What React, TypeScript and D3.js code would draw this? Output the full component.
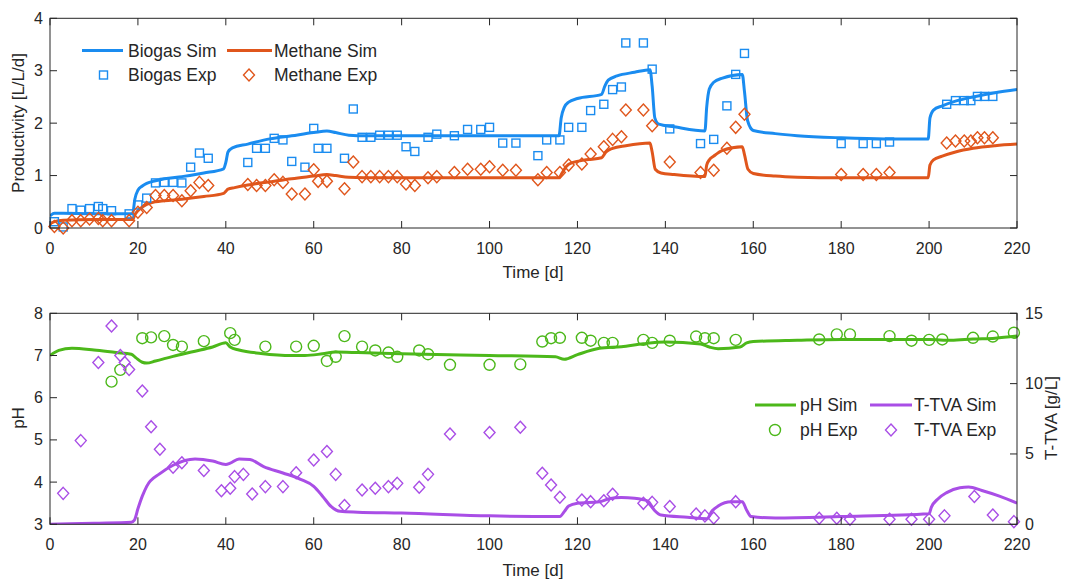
import * as d3 from "d3";

// [day, value] pairs
const biogasSim = [
  [0, 0.23], [1, 0.28], [3, 0.28], [10, 0.27], [18.8, 0.27], [19.3, 0.55], [20, 0.72], [21, 0.8],
  [22, 0.85], [24, 0.9], [26, 0.94], [30, 0.98], [35, 1.05], [39.5, 1.13], [40, 1.25], [40.5, 1.45],
  [41.5, 1.53], [45, 1.6], [50, 1.7], [55, 1.76], [60, 1.82], [63, 1.85], [65, 1.82], [68, 1.77],
  [72, 1.76], [100, 1.76], [115.8, 1.76], [116.3, 2.1], [117, 2.3], [118, 2.4], [120, 2.47],
  [125.5, 2.55], [126.2, 2.7], [127, 2.82], [129, 2.9], [133, 2.97], [136.5, 3.02], [137, 2.7],
  [137.6, 2.1], [138.5, 1.98], [142, 1.93], [149, 1.85], [149.4, 2.3], [150, 2.65], [151, 2.78],
  [153, 2.86], [157.5, 2.93], [158, 2.6], [158.7, 2.05], [160, 1.86], [165, 1.8], [170, 1.76],
  [180, 1.72], [190, 1.7], [199.8, 1.7], [200.2, 2.1], [201, 2.25], [203, 2.33], [206, 2.42],
  [210, 2.5], [215, 2.58], [220, 2.64],
];
const methaneSim = [
  [0, 0.08], [1, 0.12], [3, 0.15], [10, 0.16], [18.8, 0.16], [19.3, 0.25], [20, 0.33], [21, 0.4],
  [22, 0.45], [24, 0.5], [26, 0.52], [30, 0.55], [35, 0.6], [39.5, 0.66], [40, 0.7], [40.5, 0.74],
  [42, 0.77], [45, 0.82], [50, 0.88], [55, 0.94], [60, 0.99], [63, 1.02], [65, 1.0], [68, 0.97],
  [75, 0.96], [100, 0.96], [115.8, 0.96], [116.5, 1.05], [117.5, 1.18], [119, 1.25], [122, 1.3],
  [125.5, 1.34], [126.5, 1.45], [128, 1.52], [131, 1.57], [136.5, 1.62], [137, 1.45], [137.7, 1.12],
  [139, 1.05], [142, 1.02], [149, 0.98], [149.4, 1.2], [150, 1.3], [151, 1.37], [153, 1.48],
  [157.5, 1.55], [158, 1.4], [158.8, 1.12], [160, 1.04], [165, 0.99], [170, 0.97], [180, 0.96],
  [199.8, 0.96], [200.2, 1.2], [201, 1.3], [203, 1.37], [206, 1.45], [210, 1.52], [215, 1.57],
  [220, 1.6],
];
const biogasExp = [
  [1, 0.12], [3, 0.02], [5, 0.37], [7, 0.34], [9, 0.37], [11, 0.41], [12, 0.37], [14, 0.33],
  [18, 0.27], [20, 0.44], [22, 0.57], [24, 0.86], [26, 0.87], [28, 0.87], [30, 0.86], [32, 1.16],
  [34, 1.43], [36, 1.33], [45, 1.25], [47, 1.52], [49, 1.52], [51, 1.71], [53, 1.68], [55, 1.27],
  [58, 1.16], [60, 1.9], [61, 1.52], [63, 1.52], [67, 1.33], [69, 2.27], [71, 1.73], [73, 1.73],
  [75, 1.77], [77, 1.77], [79, 1.77], [81, 1.55], [83, 1.46], [86, 1.73], [88, 1.79], [92, 1.76],
  [95, 1.88], [98, 1.88], [100, 1.92], [103, 1.62], [106, 1.62], [111, 1.38], [113, 1.68],
  [116, 1.68], [118, 1.92], [121, 1.92], [123, 2.24], [126, 2.36], [128, 2.64], [130, 2.69],
  [131, 3.53], [135, 3.53], [137, 3.03], [141, 1.89], [148, 1.61], [151, 1.69], [154, 2.33],
  [156, 2.93], [158, 3.33], [180, 1.61], [185, 1.61], [188, 1.61], [191, 1.64], [204, 2.36],
  [206, 2.43], [208, 2.43], [209.5, 2.43], [211, 2.51], [212.6, 2.51], [214.5, 2.51],
];
const methaneExp = [
  [1, 0.03], [3, 0.0], [5, 0.14], [7, 0.14], [9, 0.17], [11, 0.18], [12, 0.14], [14, 0.14],
  [18, 0.14], [20, 0.3], [22, 0.39], [24, 0.62], [26, 0.62], [28, 0.62], [30, 0.52], [32, 0.71],
  [34, 0.87], [36, 0.81], [45, 0.83], [47, 0.81], [49, 0.81], [51, 0.92], [53, 0.87], [55, 0.65],
  [58, 0.65], [60, 1.11], [61, 0.89], [63, 0.89], [67, 0.75], [69, 1.26], [71, 0.98], [73, 0.98],
  [75, 0.98], [77, 0.98], [79, 0.98], [81, 0.84], [83, 0.81], [86, 0.96], [88, 0.98], [92, 1.06],
  [95, 1.12], [98, 1.12], [100, 1.17], [103, 1.1], [106, 1.1], [111, 0.92], [113, 1.06],
  [116, 1.06], [118, 1.2], [121, 1.22], [123, 1.41], [126, 1.55], [128, 1.69], [130, 1.74],
  [131, 2.25], [135, 2.25], [137, 1.95], [141, 1.26], [148, 1.06], [151, 1.1], [154, 1.52],
  [156, 1.92], [158, 2.17], [180, 1.02], [185, 1.02], [188, 1.02], [191, 1.06], [204, 1.62],
  [206, 1.66], [208, 1.66], [209.5, 1.66], [211, 1.72], [212.6, 1.72], [214.5, 1.72],
];

const phSim = [
  [0, 7.0], [2, 7.12], [5, 7.17], [10, 7.13], [15, 7.07], [18.5, 7.03], [19.5, 6.95], [21, 6.84],
  [22, 6.82], [24, 6.87], [28, 6.98], [33, 7.1], [37, 7.2], [40, 7.3], [41, 7.2], [43, 7.13],
  [48, 7.05], [55, 7.0], [58, 7.0], [62, 7.04], [65, 7.08], [70, 7.07], [80, 7.04], [100, 7.0],
  [115, 6.97], [117, 6.91], [120, 7.02], [125, 7.17], [130, 7.21], [135, 7.28], [140, 7.32],
  [148, 7.27], [150, 7.2], [152, 7.16], [157, 7.2], [158.5, 7.3], [160, 7.33], [170, 7.36],
  [180, 7.38], [200, 7.38], [205, 7.36], [210, 7.39], [215, 7.41], [220, 7.46],
];
const tvaSim = [
  [0, 0.0], [10, 0.08], [18.5, 0.15], [19.2, 0.3], [20, 1.1], [21, 2.0], [22, 2.7], [25, 3.6],
  [28, 4.2], [33, 4.65], [37, 4.5], [40, 4.25], [41, 4.35], [43, 4.65], [45.5, 4.6], [48.6, 4.1],
  [53, 3.65], [57, 3.2], [60, 2.7], [62, 2.0], [64, 1.25], [66, 0.92], [70, 0.86], [80, 0.8],
  [100, 0.6], [116, 0.55], [117, 0.9], [118, 1.3], [120, 1.5], [125, 1.6], [127, 1.8], [130, 1.9],
  [133, 1.85], [136, 1.65], [137.5, 1.0], [139, 0.66], [145, 0.5], [149.5, 0.4], [150.5, 0.9],
  [152, 1.3], [155, 1.6], [157.5, 1.6], [158.5, 1.0], [159.5, 0.55], [165, 0.45], [180, 0.55],
  [200, 0.75], [200.5, 1.2], [202, 1.8], [204, 2.25], [207, 2.6], [209, 2.65], [212, 2.4],
  [216, 2.0], [220, 1.5],
];
const phExp = [
  [14, 6.38], [16, 6.66], [21, 7.41], [23, 7.43], [26, 7.46], [28, 7.25], [30, 7.21], [35, 7.34],
  [41, 7.53], [42, 7.37], [49, 7.21], [56, 7.21], [60, 7.23], [63, 6.87], [65, 6.97], [67, 7.46],
  [71, 7.21], [74, 7.12], [77, 7.07], [79, 6.97], [84, 7.12], [86, 7.03], [91, 6.78], [100, 6.78],
  [107, 6.79], [112, 7.33], [114, 7.41], [116, 7.42], [121, 7.42], [123, 7.35], [126, 7.3],
  [128, 7.3], [135, 7.37], [137, 7.3], [141, 7.35], [147, 7.45], [149, 7.41], [151, 7.41],
  [156, 7.37], [175, 7.38], [179, 7.5], [182, 7.5], [191, 7.46], [196, 7.35], [200, 7.37],
  [203, 7.38], [210, 7.42], [214.5, 7.45], [219.3, 7.54],
];
const tvaExp = [
  [3, 2.2], [7, 5.95], [11, 11.5], [14, 14.1], [16, 12.0], [17, 11.5], [18, 11.0], [21, 9.48],
  [23, 6.94], [25, 5.33], [28, 4.05], [30, 4.38], [35, 3.82], [39, 2.39], [41, 2.56], [42, 3.39],
  [44, 3.55], [46, 2.16], [49, 2.68], [53, 2.68], [56, 3.67], [60, 4.57], [63, 5.17], [65, 3.55],
  [67, 1.33], [71, 2.44], [74, 2.56], [77, 2.68], [79, 2.91], [84, 2.63], [86, 3.55], [91, 6.42],
  [100, 6.52], [107, 6.9], [112, 3.63], [114, 2.8], [116, 1.92], [121, 1.73], [123, 1.61],
  [126, 1.68], [128, 2.13], [135, 1.49], [137, 1.56], [141, 1.26], [147, 0.73], [149, 0.6],
  [151, 0.45], [156, 1.61], [175, 0.43], [179, 0.43], [182, 0.36], [191, 0.36], [196, 0.36],
  [200, 0.36], [203.5, 0.6], [210.3, 1.97], [214.5, 0.66], [219.3, 0.19],
];

const xTicks = [0, 20, 40, 60, 80, 100, 120, 140, 160, 180, 200, 220];
const prodTicks = [0, 1, 2, 3, 4];
const phTicks = [3, 4, 5, 6, 7, 8];
const tvaTicks = [0, 5, 10, 15];

const BLUE = "#1a8cf0";
const ORANGE = "#e0561c";
const GREEN = "#4cb81a";
const PURPLE = "#a94ee6";
const INK = "#262626";
const FONT = "'Liberation Sans', Arial, sans-serif";

const LEFT = 50;
const RIGHT = 1017;
const TICK = 7;
const LABEL_SIZE = 17;
const LEGEND_SIZE = 17.5;

const x = d3.scaleLinear().domain([0, 220]).range([LEFT, RIGHT]);
const yProd = d3.scaleLinear().domain([0, 4]).range([228, 18.3]);
const yPh = d3.scaleLinear().domain([3, 8]).range([524.3, 313.3]);
const yTva = d3.scaleLinear().domain([0, 15]).range([524.3, 313.3]);

function linePath(data, y) {
  return d3
    .line()
    .x((d) => x(d[0]))
    .y((d) => y(d[1]))
    .curve(d3.curveMonotoneX)(data);
}

const square = (cx, cy, color, k) => (
  <rect key={k} x={cx - 4} y={cy - 4} width={8} height={8} fill="none" stroke={color} strokeWidth={1.4} />
);
const diamond = (cx, cy, color, k) => (
  <path key={k} d={`M${cx},${cy - 6}L${cx + 5.5},${cy}L${cx},${cy + 6}L${cx - 5.5},${cy}Z`} fill="none" stroke={color} strokeWidth={1.4} />
);
const circle = (cx, cy, color, k) => (
  <circle key={k} cx={cx} cy={cy} r={5.5} fill="none" stroke={color} strokeWidth={1.4} />
);

function Frame({ y, ticks, top, bottom, rightTicks, yRight, xLabelY }) {
  return (
    <g>
      <rect x={LEFT} y={top} width={RIGHT - LEFT} height={bottom - top} fill="none" stroke={INK} strokeWidth={1} />
      {xTicks.map((t) => (
        <g key={"x" + t}>
          <line x1={x(t)} x2={x(t)} y1={bottom} y2={bottom - TICK} stroke={INK} />
          <line x1={x(t)} x2={x(t)} y1={top} y2={top + TICK} stroke={INK} />
          <text x={x(t)} y={bottom + 26} textAnchor="middle" fontSize={16} fill={INK}>{t}</text>
        </g>
      ))}
      {ticks.map((t) => (
        <g key={"y" + t}>
          <line x1={LEFT} x2={LEFT + TICK} y1={y(t)} y2={y(t)} stroke={INK} />
          {!rightTicks && <line x1={RIGHT} x2={RIGHT - TICK} y1={y(t)} y2={y(t)} stroke={INK} />}
          <text x={43} y={y(t) + 5.5} textAnchor="end" fontSize={16} fill={INK}>{t}</text>
        </g>
      ))}
      {rightTicks &&
        rightTicks.map((t) => (
          <g key={"r" + t}>
            <line x1={RIGHT} x2={RIGHT - TICK} y1={yRight(t)} y2={yRight(t)} stroke={INK} />
            <text x={1025} y={yRight(t) + 5.5} fontSize={16} fill={INK}>{t}</text>
          </g>
        ))}
      <text x={533} y={xLabelY} textAnchor="middle" fontSize={LABEL_SIZE} fill={INK}>Time [d]</text>
    </g>
  );
}

export default function App() {
  return (
    <svg width={1070} height={579} style={{ position: "absolute", left: 0, top: 0, background: "#fff" }} fontFamily={FONT}>
      <defs>
        <clipPath id="clipTop">
          <rect x={LEFT} y={18.3} width={RIGHT - LEFT} height={228 - 18.3} />
        </clipPath>
        <clipPath id="clipBot">
          <rect x={LEFT} y={313.3} width={RIGHT - LEFT} height={524.3 - 313.3} />
        </clipPath>
      </defs>

      {/* top panel */}
      <g clipPath="url(#clipTop)">
        <path d={linePath(biogasSim, yProd)} fill="none" stroke={BLUE} strokeWidth={3} />
        <path d={linePath(methaneSim, yProd)} fill="none" stroke={ORANGE} strokeWidth={3} />
      </g>
      {biogasExp.map((d, i) => square(x(d[0]), yProd(d[1]), BLUE, "b" + i))}
      {methaneExp.map((d, i) => diamond(x(d[0]), yProd(d[1]), ORANGE, "m" + i))}
      <Frame y={yProd} ticks={prodTicks} top={18.3} bottom={228} xLabelY={277.5} />
      <text transform="translate(24,123) rotate(-90)" textAnchor="middle" fontSize={LABEL_SIZE} fill={INK}>Productivity [L/L/d]</text>

      <g fontSize={LEGEND_SIZE} fill={INK}>
        <line x1={82} x2={123} y1={50.5} y2={50.5} stroke={BLUE} strokeWidth={3} />
        <text x={128} y={56.5}>Biogas Sim</text>
        {square(103.5, 75, BLUE, "lb")}
        <text x={128} y={81}>Biogas Exp</text>
        <line x1={227} x2={272} y1={50.5} y2={50.5} stroke={ORANGE} strokeWidth={3} />
        <text x={274} y={56.5}>Methane Sim</text>
        {diamond(249, 75, ORANGE, "lm")}
        <text x={274} y={81}>Methane Exp</text>
      </g>

      {/* bottom panel */}
      <g clipPath="url(#clipBot)">
        <path d={linePath(phSim, yPh)} fill="none" stroke={GREEN} strokeWidth={3} />
        <path d={linePath(tvaSim, yTva)} fill="none" stroke={PURPLE} strokeWidth={3} />
      </g>
      {phExp.map((d, i) => circle(x(d[0]), yPh(d[1]), GREEN, "p" + i))}
      {tvaExp.map((d, i) => diamond(x(d[0]), yTva(d[1]), PURPLE, "t" + i))}
      <Frame y={yPh} ticks={phTicks} top={313.3} bottom={524.3} rightTicks={tvaTicks} yRight={yTva} xLabelY={576} />
      <text transform="translate(24,418) rotate(-90)" textAnchor="middle" fontSize={LABEL_SIZE} fill={INK}>pH</text>
      <text transform="translate(1057,418) rotate(-90)" textAnchor="middle" fontSize={LABEL_SIZE} fill={INK}>T-TVA [g/L]</text>

      <g fontSize={LEGEND_SIZE} fill={INK}>
        <line x1={755} x2={796} y1={405} y2={405} stroke={GREEN} strokeWidth={3} />
        <text x={800} y={411}>pH Sim</text>
        {circle(775, 430, GREEN, "lp")}
        <text x={800} y={436}>pH Exp</text>
        <line x1={870} x2={912} y1={405} y2={405} stroke={PURPLE} strokeWidth={3} />
        <text x={914} y={411}>T-TVA Sim</text>
        {diamond(891, 430, PURPLE, "lt")}
        <text x={914} y={436}>T-TVA Exp</text>
      </g>
    </svg>
  );
}
